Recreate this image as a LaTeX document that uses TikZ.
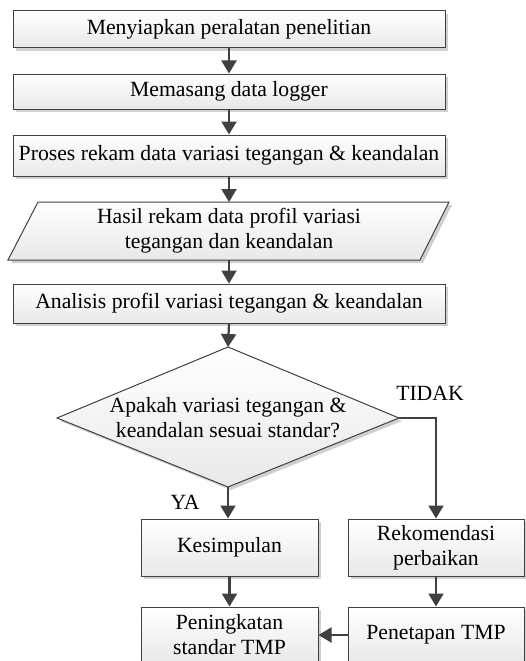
\documentclass[tikz,border=0pt]{standalone}
\usepackage{fontspec}
\setmainfont{Liberation Serif}
\usetikzlibrary{arrows.meta,shadows}
\definecolor{edgec}{HTML}{404040}
\definecolor{shadc}{HTML}{D0D0D0}
\tikzset{
  boxfill/.style={top color=white,bottom color=black!9,draw=edgec,line width=1pt},
  procbox/.style={boxfill,rectangle,inner sep=0pt,align=center,
    drop shadow={shadow xshift=3pt,shadow yshift=-3pt,fill=shadc,opacity=1}},
  txt/.style={font=\fontsize{21.7}{25}\selectfont,align=center,inner sep=0pt},
  conn/.style={draw=edgec,line width=2.2pt,-{Triangle[width=15pt,length=13pt]}},
  line/.style={draw=edgec,line width=2.2pt},
}
\begin{document}
\begin{tikzpicture}[x=1pt,y=-1pt]
\useasboundingbox (0,0) rectangle (525,661);
\node[procbox,txt,minimum width=432pt,minimum height=37pt] (n1) at (229,29.5) {Menyiapkan peralatan penelitian};
\node[procbox,txt,minimum width=432pt,minimum height=35pt] (n2) at (229,91.5) {Memasang data logger};
\node[procbox,txt,minimum width=432pt,minimum height=41pt] (n3) at (229,155.5) {Proses rekam data variasi tegangan \& keandalan};
% parallelogram
\coordinate (p1) at (38,202);
\coordinate (p2) at (449,202);
\coordinate (p3) at (420,260);
\coordinate (p4) at (8,260);
\fill[shadc] ([shift={(3,3)}]p1) -- ([shift={(3,3)}]p2) -- ([shift={(3,3)}]p3) -- ([shift={(3,3)}]p4) -- cycle;
\path[boxfill] (p1) -- (p2) -- (p3) -- (p4) -- cycle;
\node[txt] (n4) at (229,231) {Hasil rekam data profil variasi\\tegangan dan keandalan};
\coordinate (n4top) at (229,202);
\coordinate (n4bot) at (229,260);
\node[procbox,txt,minimum width=432pt,minimum height=39pt] (n5) at (229,303.5) {Analisis profil variasi tegangan \& keandalan};
% diamond
\coordinate (dt) at (228,347);
\coordinate (dr) at (399,418);
\coordinate (db) at (228,487);
\coordinate (dl) at (57,418);
\fill[shadc] ([shift={(3,3)}]dt) -- ([shift={(3,3)}]dr) -- ([shift={(3,3)}]db) -- ([shift={(3,3)}]dl) -- cycle;
\path[boxfill] (dt) -- (dr) -- (db) -- (dl) -- cycle;
\node[txt] (d) at (228,418) {Apakah variasi tegangan \&\\keandalan sesuai standar?};
\node[procbox,txt,minimum width=177pt,minimum height=57pt] (k) at (229.5,547.5) {Kesimpulan};
\node[procbox,txt,minimum width=176pt,minimum height=57pt] (r) at (436,547.5) {Rekomendasi\\perbaikan};
\node[procbox,txt,minimum width=177pt,minimum height=56pt] (pk) at (229.5,635) {Peningkatan\\standar TMP};
\node[procbox,txt,minimum width=176pt,minimum height=56pt] (pt) at (436,635) {Penetapan TMP};
\node[txt] (tidak) at (430,393) {TIDAK};
\node[txt] (ya) at (185,502) {YA};
% connectors
\draw[conn] (n1) -- (n2);
\draw[conn] (n2) -- (n3);
\draw[conn] (n3) -- (n4top);
\draw[conn] (n4bot) -- (n5);
\draw[conn] (n5.south) -- (dt);
\draw[conn] (db) -- (k.north -| db);
\draw[conn] (dr) -| (r.north);
\draw[conn] (k) -- (pk);
\draw[conn] (r) -- (pt);
\draw[conn] (pt) -- (pk);
\end{tikzpicture}
\end{document}
